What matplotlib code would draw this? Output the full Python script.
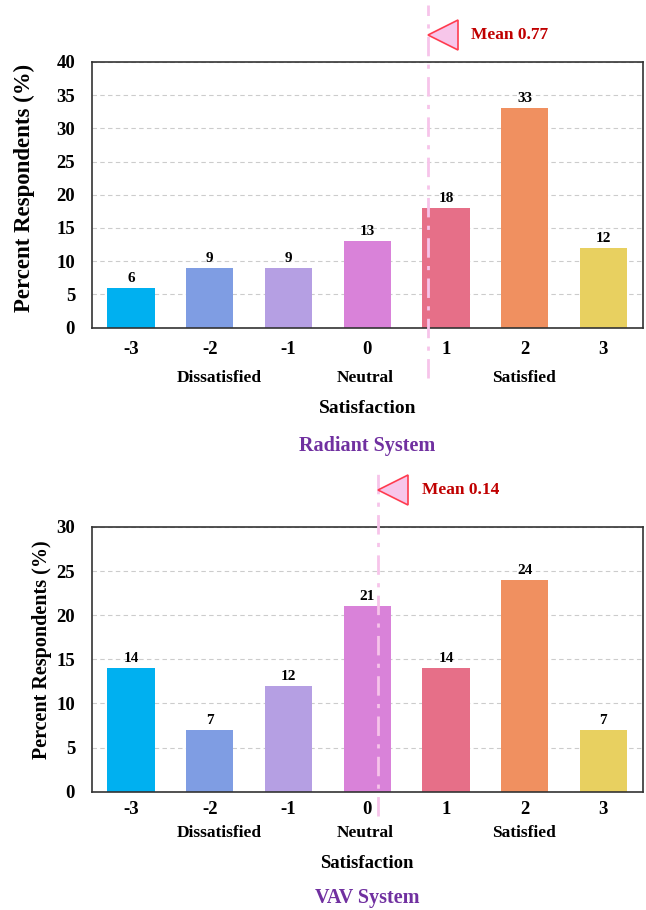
import matplotlib.pyplot as plt
import numpy as np

plt.rcParams['font.family'] = ['Liberation Serif', 'DejaVu Serif']
plt.rcParams['font.weight'] = 'bold'

scores = [-3, -2, -1, 0, 1, 2, 3]
radiant_pct = [6, 9, 9, 13, 18, 33, 12]
vav_pct = [14, 7, 12, 21, 14, 24, 7]
radiant_mean = 0.77
vav_mean = 0.14
bar_colors = ['#00b0f0', '#7f9de3', '#b59fe3', '#d982d9', '#e66f88', '#f09060', '#e8d060']
scale_words = {-2: 'Dissatisfied', 0: 'Neutral', 2: 'Satisfied'}
word_nudge = {-2: 0.12, 0: -0.03, 2: -0.01}


def draw_panel(ax, pct, mean, ymax, title, lay):
    ax.bar(scores, pct, width=0.6, color=bar_colors, zorder=2)
    for x, v in zip(scores, pct):
        ax.text(x, v + ymax * 0.012, str(v), ha='center', va='bottom',
                fontsize=11, fontweight='bold')
    ax.set_xlim(-3.5, 3.5)
    ax.set_ylim(0, ymax)
    ax.set_yticks(np.arange(0, ymax + 1, 5))
    ax.set_xticks(scores)
    ax.set_xticklabels([str(s) for s in scores])
    ax.tick_params(axis='both', length=0, labelsize=13.5)
    ax.tick_params(axis='x', pad=lay['xpad'])
    ax.tick_params(axis='y', pad=12)
    ax.grid(axis='y', color='#cccccc', linestyle=(0, (4, 3)), linewidth=0.8, zorder=0)
    for sp in ax.spines.values():
        sp.set_color('#333333')
        sp.set_linewidth(1.2)

    ax.text(lay['ylab_x'], lay['ylab_y'], 'Percent Respondents (%)', rotation=90,
            transform=ax.transAxes, ha='center', va='center',
            fontsize=lay['ylab_size'], fontweight='bold')
    ax.text(0.5, lay['xlab_y'], 'Satisfaction', transform=ax.transAxes,
            ha='center', va='center', fontsize=lay['xlab_size'], fontweight='bold')
    for s, w in scale_words.items():
        ax.text(s + word_nudge[s], lay['word_y'], w, transform=ax.get_xaxis_transform(),
                ha='center', va='center', fontsize=12.5, fontweight='bold')
    ax.text(0.5, lay['title_y'], title, transform=ax.transAxes, ha='center',
            va='center', fontsize=lay['title_size'], fontweight='bold', color='#7030a0')

    # mean marker line running past the axes frame
    ax.axvline(mean, ymin=lay['line'][0], ymax=lay['line'][1], color='#f7c4ea',
               linestyle=(0, (7, 3, 1.5, 3)), linewidth=2, clip_on=False, zorder=3)
    ax.plot([mean + 0.19], [lay['marker_y']], marker='<', markersize=21.5,
            markerfacecolor='#f7c6ea', markeredgecolor='#ff3c50', markeredgewidth=1.2,
            clip_on=False, zorder=4)
    ax.text(mean + 0.55, lay['marker_y'], f'Mean {mean:.2f}', ha='left', va='center',
            fontsize=12.5, fontweight='bold', color='#c00000', clip_on=False)


fig = plt.figure(figsize=(6.46, 9.10), dpi=100)
ax1 = fig.add_axes([0.142, 0.640, 0.853, 0.292])
ax2 = fig.add_axes([0.142, 0.130, 0.853, 0.291])

draw_panel(ax1, radiant_pct, radiant_mean, 40, 'Radiant System',
           dict(xpad=10, ylab_x=-0.122, ylab_y=0.526, ylab_size=16.5,
                xlab_y=-0.305, xlab_size=14, word_y=-0.188,
                title_y=-0.447, title_size=14.5,
                line=(-0.19, 1.215), marker_y=44.0))
draw_panel(ax2, vav_pct, vav_mean, 30, 'VAV System',
           dict(xpad=7, ylab_x=-0.091, ylab_y=0.536, ylab_size=14.5,
                xlab_y=-0.272, xlab_size=13.5, word_y=-0.155,
                title_y=-0.40, title_size=14.5,
                line=(-0.09, 1.215), marker_y=34.2))

fig.savefig('out.png', dpi=100)
